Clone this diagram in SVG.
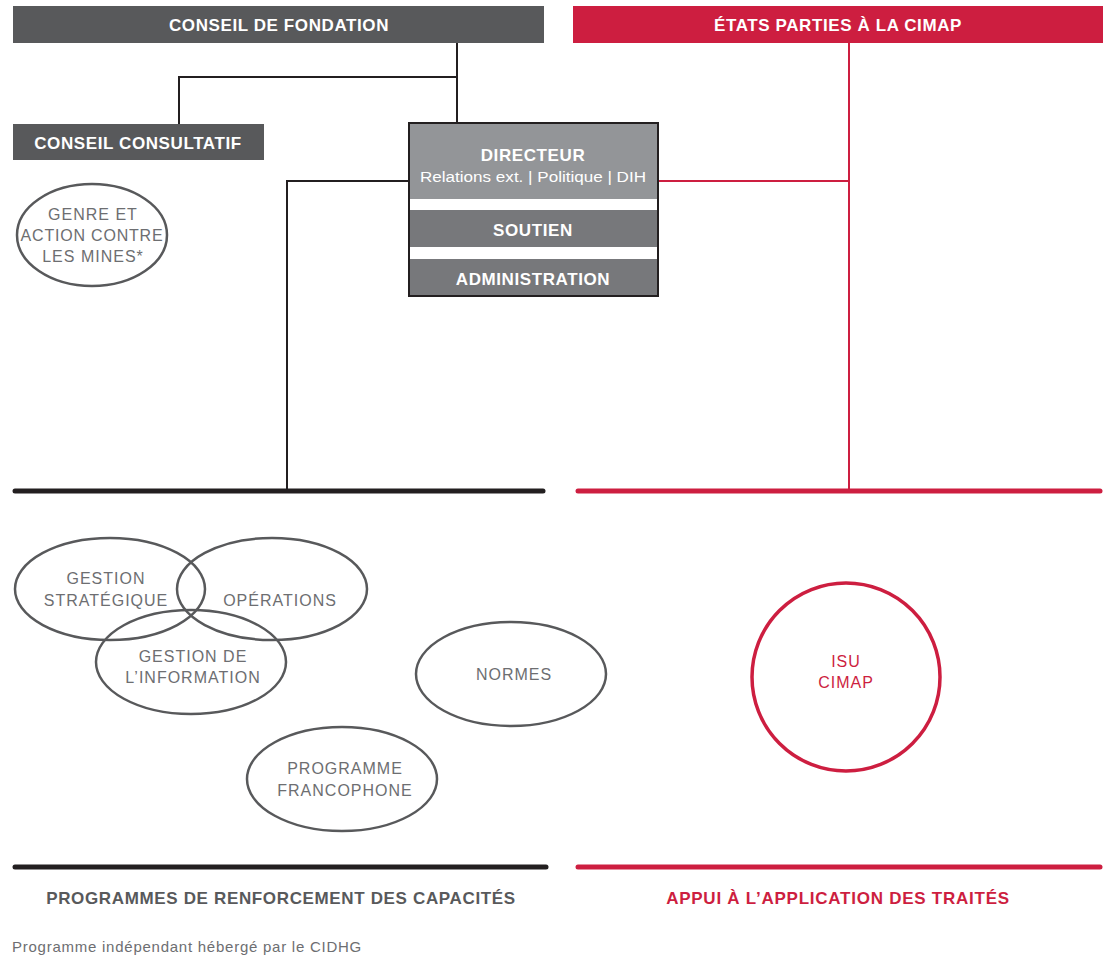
<svg xmlns="http://www.w3.org/2000/svg" width="1110" height="957" viewBox="0 0 1110 957">
<style>
.hdr{font-family:"Liberation Sans",Arial,sans-serif;font-weight:bold;font-size:17px;fill:#fff;text-anchor:middle;letter-spacing:0.6px}
.ov{fill:none;stroke:#58595b;stroke-width:2.5}
.ot{font-family:"Liberation Sans",Arial,sans-serif;font-size:16px;fill:#6d6e71;text-anchor:middle;letter-spacing:1px}
.blk{fill:none;stroke:#231f20;stroke-width:2}
.red{fill:none;stroke:#cd1e40;stroke-width:2}
.thickb{stroke:#231f20;stroke-width:5;stroke-linecap:round}
.thickr{stroke:#cd1e40;stroke-width:5;stroke-linecap:round}
</style>
<rect width="1110" height="957" fill="#fff"/>
<g id="connectors">
<path class="blk" d="M457,43 V123 M457,77 H179 V124 M409,181 H287 V491"/>
<path class="red" d="M849,43 V491 M658,181 H849"/>
<line class="thickb" x1="15" y1="491" x2="543" y2="491"/>
<line class="thickr" x1="578" y1="491" x2="1100" y2="491"/>
<line class="thickb" x1="15" y1="867" x2="546" y2="867"/>
<line class="thickr" x1="578" y1="867" x2="1100" y2="867"/>
</g>
<g id="conseil-fondation">
<rect x="13" y="6" width="531" height="37" fill="#58595b"/>
<text class="hdr" x="279" y="31">CONSEIL DE FONDATION</text>
</g>
<g id="etats-parties">
<rect x="573" y="6" width="530" height="37" fill="#cd1e40"/>
<text class="hdr" x="838" y="31">ÉTATS PARTIES À LA CIMAP</text>
</g>
<g id="conseil-consultatif">
<rect x="13" y="124" width="251" height="36" fill="#58595b"/>
<text class="hdr" x="138" y="149">CONSEIL CONSULTATIF</text>
</g>
<g id="directeur">
<rect x="409" y="123" width="249" height="173" fill="#fff" stroke="#231f20" stroke-width="2"/>
<rect x="410" y="124" width="247" height="75" fill="#939598"/>
<rect x="410" y="210" width="247" height="37" fill="#77787b"/>
<rect x="410" y="259" width="247" height="36" fill="#77787b"/>
<text class="hdr" x="533" y="161">DIRECTEUR</text>
<text x="533" y="182" font-family="Liberation Sans, Arial, sans-serif" font-size="15.5" fill="#fff" text-anchor="middle" textLength="226" lengthAdjust="spacingAndGlyphs">Relations ext. | Politique | DIH</text>
<text class="hdr" x="533" y="236">SOUTIEN</text>
<text class="hdr" x="533" y="285">ADMINISTRATION</text>
</g>
<g id="genre">
<ellipse class="ov" cx="92" cy="235" rx="75" ry="51"/>
<text class="ot" x="93" y="220">GENRE ET</text>
<text class="ot" x="92" y="241" style="letter-spacing:0.8px">ACTION CONTRE</text>
<text class="ot" x="93" y="262">LES MINES*</text>
</g>
<g id="gestion-strategique">
<ellipse class="ov" cx="110" cy="589" rx="95" ry="51"/>
<text class="ot" x="106" y="584">GESTION</text>
<text class="ot" x="106" y="606">STRATÉGIQUE</text>
</g>
<g id="operations">
<ellipse class="ov" cx="272" cy="589" rx="95" ry="51"/>
<text class="ot" x="280" y="606">OPÉRATIONS</text>
</g>
<g id="gestion-information">
<ellipse class="ov" cx="191" cy="662" rx="95" ry="52"/>
<text class="ot" x="193" y="662">GESTION DE</text>
<text class="ot" x="193" y="683">L’INFORMATION</text>
</g>
<g id="normes">
<ellipse class="ov" cx="511" cy="674" rx="95" ry="52"/>
<text class="ot" x="514" y="680">NORMES</text>
</g>
<g id="programme-francophone">
<ellipse class="ov" cx="342" cy="779" rx="95" ry="52"/>
<text class="ot" x="345" y="774">PROGRAMME</text>
<text class="ot" x="345" y="796">FRANCOPHONE</text>
</g>
<g id="isu-cimap">
<circle cx="846" cy="677" r="94" fill="none" stroke="#cd1e40" stroke-width="3.5"/>
<text class="ot" x="846" y="667" style="fill:#cd1e40">ISU</text>
<text class="ot" x="846" y="688" style="fill:#cd1e40">CIMAP</text>
</g>
<text x="281" y="904" font-family="Liberation Sans, Arial, sans-serif" font-weight="bold" font-size="17" fill="#58595b" text-anchor="middle" letter-spacing="0.65">PROGRAMMES DE RENFORCEMENT DES CAPACITÉS</text>
<text x="838" y="904" font-family="Liberation Sans, Arial, sans-serif" font-weight="bold" font-size="17" fill="#cd1e40" text-anchor="middle" letter-spacing="0.75">APPUI À L’APPLICATION DES TRAITÉS</text>
<text x="12" y="952" font-family="Liberation Sans, Arial, sans-serif" font-size="15" fill="#6d6e71" letter-spacing="0.75">Programme indépendant hébergé par le CIDHG</text>
</svg>
